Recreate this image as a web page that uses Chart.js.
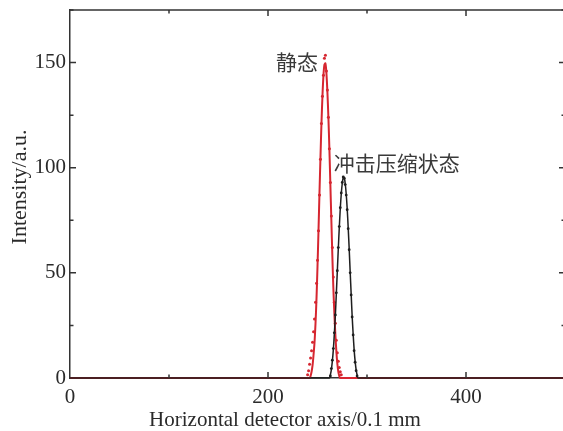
<!DOCTYPE html>
<html>
<head>
<meta charset="utf-8">
<script src="https://cdn.jsdelivr.net/npm/chart.js@4/dist/chart.umd.min.js"></script>
<style>
  html, body { margin: 0; padding: 0; background: #fff; overflow: hidden; }
  #wrap { width: 570px; height: 431px; }
</style>
</head>
<body>
<div id="wrap"><canvas id="profile" width="570" height="431"></canvas></div>
<script>
// static state (静态): measured points and fitted curve
var staticMeasX = [240, 241, 242, 243, 244, 245, 246, 247, 248, 249, 250, 251, 252, 253, 254, 255, 256, 257,
  258, 259, 260, 261, 262, 263, 264, 265, 266, 267, 268, 269, 270, 271, 272, 273, 274];
var staticMeasY = [1.5, 3.5, 6.5, 9.5, 13, 17, 22, 28, 36, 45, 56, 70, 87, 104, 121, 134, 144, 152,
  153.5, 146, 137, 124, 109, 93, 77, 62, 48, 36, 26, 18, 12, 8, 5, 3, 1.5];
var staticFitX = [0, 242, 243, 244, 245, 246, 247, 248, 249, 250, 251, 252, 253, 254, 255, 256, 257, 258,
  259, 260, 261, 262, 263, 264, 265, 266, 267, 268, 269, 270, 271, 272, 273, 500];
var staticFitY = [0, 0, 1, 3, 6, 11, 17, 26, 38, 53, 70, 88, 105, 121, 134, 143.8, 149, 149.6,
  145, 136, 124, 109, 92, 75, 58, 43, 31, 21, 13, 7, 3, 1, 0, 0];

// shock compressed state (冲击压缩状态)
var shockMeasX = [263, 264, 265, 266, 267, 268, 269, 270, 271, 272, 273, 274, 275, 276, 277, 278, 279,
  280, 281, 282, 283, 284, 285, 286, 287, 288, 289, 290];
var shockMeasY = [1, 4.5, 8.5, 14, 21.5, 30, 40.5, 51, 62, 72, 81, 88, 93, 95.6, 95, 92, 87,
  80, 71, 61, 50, 39.5, 29, 20.5, 13, 7.5, 3.5, 1];
var shockFitX = [0, 262, 263, 264, 265, 266, 267, 268, 269, 270, 271, 272, 273, 274, 275, 276, 277,
  278, 279, 280, 281, 282, 283, 284, 285, 286, 287, 288, 289, 290, 291, 500];
var shockFitY = [0, 0, 1.5, 4, 8, 13.5, 21, 29.5, 40, 50.5, 61.5, 71.5, 80.5, 87.5, 92.5, 95.2, 95.2,
  92.5, 87.5, 80.5, 71.5, 61.5, 50.5, 40, 29.5, 21, 13.5, 8, 4, 1.5, 0, 0];

var xTickLabels = [0, 200, 400];
var yTickLabels = [0, 50, 100, 150];
var xMinorTicks = [100, 300, 500];
var yMinorTicks = [25, 75, 125, 175];

var curveLabels = ["静态", "冲击压缩状态"];
var xTitle = "Horizontal detector axis/0.1 mm";
var yTitle = "Intensity/a.u.";

var RED = "rgb(214, 38, 48)";
var BLACK = "#1e1e1e";
var AXIS = "#333";
var TEXT = "#2a2a2a";

function toPoints(xs, ys) {
  return xs.map(function (x, i) { return { x: x, y: ys[i] }; });
}

// frame + inward ticks on all four sides, curve labels and axis titles
var framePlugin = {
  id: "frame",
  afterDatasetsDraw: function (chart) {
    var ctx = chart.ctx, a = chart.chartArea;
    var xs = chart.scales.x, ys = chart.scales.y;
    ctx.save();
    ctx.strokeStyle = AXIS;
    ctx.lineWidth = 1.5;
    ctx.beginPath();
    ctx.moveTo(a.left, a.top);
    ctx.lineTo(a.right, a.top);
    ctx.lineTo(a.right, a.bottom);
    ctx.stroke();

    function xTick(v, len) {
      var px = xs.getPixelForValue(v);
      ctx.moveTo(px, a.bottom); ctx.lineTo(px, a.bottom - len);
      ctx.moveTo(px, a.top); ctx.lineTo(px, a.top + len);
    }
    function yTick(v, len) {
      var py = ys.getPixelForValue(v);
      ctx.moveTo(a.left, py); ctx.lineTo(a.left + len, py);
      ctx.moveTo(a.right, py); ctx.lineTo(a.right - len, py);
    }
    ctx.beginPath();
    xTickLabels.forEach(function (v) { if (v > 0) xTick(v, 6); });
    xMinorTicks.forEach(function (v) { xTick(v, 3.5); });
    yTickLabels.forEach(function (v) { if (v > 0) yTick(v, 6); });
    yMinorTicks.forEach(function (v) { yTick(v, 3.5); });
    ctx.stroke();

    // curve labels
    ctx.fillStyle = "#3a3a3a";
    ctx.font = "21px 'Noto Sans CJK SC'";
    ctx.textBaseline = "middle";
    ctx.textAlign = "right";
    ctx.fillText(curveLabels[0], xs.getPixelForValue(250.5), ys.getPixelForValue(150.5));
    ctx.textAlign = "left";
    ctx.fillText(curveLabels[1], xs.getPixelForValue(266.5), ys.getPixelForValue(102));

    // axis titles
    ctx.fillStyle = TEXT;
    ctx.textAlign = "center";
    ctx.font = "21px 'Liberation Serif', serif";
    ctx.fillText(xTitle, 285, 420);
    ctx.translate(20, 187);
    ctx.rotate(-Math.PI / 2);
    ctx.font = "22px 'Liberation Serif', serif";
    ctx.fillText(yTitle, 0, 0);
    ctx.restore();
  }
};

var serif = { family: "'Liberation Serif', 'Times New Roman', serif", size: 21 };

new Chart(document.getElementById("profile"), {
  type: "scatter",
  data: {
    datasets: [
      {
        label: "shock fit",
        data: toPoints(shockFitX, shockFitY),
        showLine: true,
        borderColor: BLACK,
        borderWidth: 1.5,
        pointRadius: 0,
        tension: 0.3,
        clip: false,
      },
      {
        label: "shock measured",
        data: toPoints(shockMeasX, shockMeasY),
        showLine: false,
        pointRadius: 1.4,
        pointBackgroundColor: BLACK,
        pointBorderWidth: 0,
        clip: false,
      },
      {
        label: "static measured",
        data: toPoints(staticMeasX, staticMeasY),
        showLine: false,
        pointRadius: 1.5,
        pointBackgroundColor: RED,
        pointBorderWidth: 0,
        clip: false,
      },
      {
        label: "static fit",
        data: toPoints(staticFitX, staticFitY),
        showLine: true,
        borderColor: RED,
        borderWidth: 2,
        pointRadius: 0,
        tension: 0.3,
        clip: false,
      },
    ],
  },
  options: {
    responsive: false,
    animation: false,
    layout: { padding: { top: 10, right: 5, left: 0, bottom: 0 } },
    plugins: { legend: { display: false }, tooltip: { enabled: false } },
    scales: {
      x: {
        type: "linear",
        min: 0,
        max: 500,
        grid: { display: false, drawTicks: false },
        border: { display: true, color: AXIS, width: 1.5, z: -1 },
        afterBuildTicks: function (s) { s.ticks = xTickLabels.map(function (v) { return { value: v }; }); },
        afterFit: function (s) { s.height = 53; s.paddingLeft = 0; s.paddingRight = 0; },
        ticks: { color: TEXT, font: serif, padding: 7, maxRotation: 0 },
      },
      y: {
        type: "linear",
        min: 0,
        max: 175,
        grid: { display: false, drawTicks: false },
        border: { display: true, color: AXIS, width: 1.5, z: -1 },
        afterBuildTicks: function (s) { s.ticks = yTickLabels.map(function (v) { return { value: v }; }); },
        afterFit: function (s) { s.width = 70; s.paddingTop = 0; s.paddingBottom = 0; },
        ticks: { color: TEXT, font: serif, padding: 4 },
      },
    },
  },
  plugins: [framePlugin],
});
</script>
</body>
</html>
